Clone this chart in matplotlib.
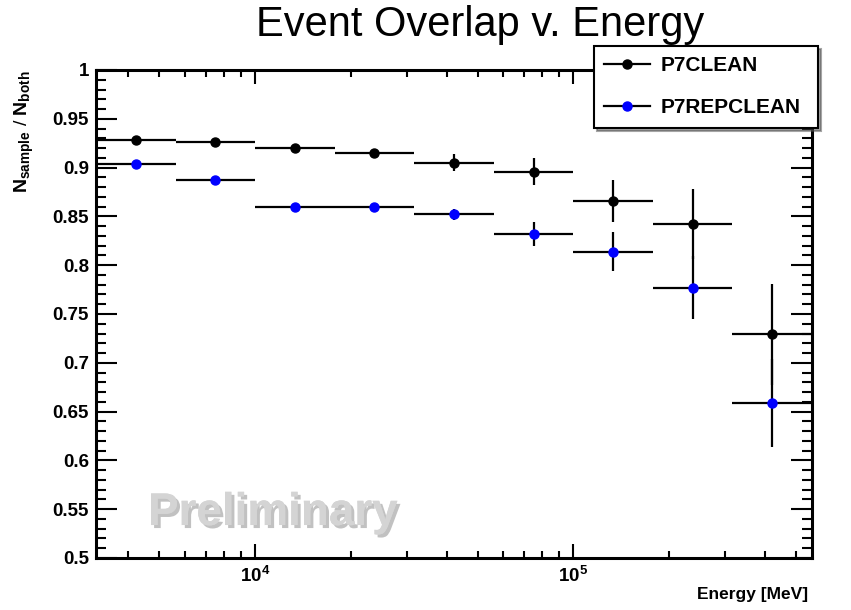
import numpy as np
import matplotlib
matplotlib.use("Agg")
import matplotlib.pyplot as plt
from matplotlib.ticker import MultipleLocator, LogLocator, NullFormatter, FuncFormatter
from matplotlib.lines import Line2D
import matplotlib.patheffects as pe

# bin edges in MeV (quarter decades)
edges = [3162, 5623, 10000, 17783, 31623, 56234, 100000, 177828, 316228, 562341]

p7clean = [0.928, 0.926, 0.920, 0.915, 0.905, 0.896, 0.866, 0.842, 0.729]
p7clean_err = [0.002, 0.003, 0.003, 0.004, 0.0085, 0.014, 0.0215, 0.036, 0.052]
p7rep = [0.904, 0.887, 0.860, 0.860, 0.852, 0.832, 0.814, 0.777, 0.659]
p7rep_err = [0.002, 0.002, 0.002, 0.003, 0.006, 0.0125, 0.020, 0.032, 0.045]

plt.rcParams['font.family'] = ['Liberation Sans', 'DejaVu Sans']
plt.rcParams['mathtext.fontset'] = 'custom'
plt.rcParams['mathtext.rm'] = 'Liberation Sans:bold'
plt.rcParams['mathtext.it'] = 'Liberation Sans:bold'
plt.rcParams['mathtext.bf'] = 'Liberation Sans:bold'

e = np.array(edges, dtype=float)
centers = np.sqrt(e[:-1] * e[1:])
xerr = [centers - e[:-1], e[1:] - centers]

fig = plt.figure(figsize=(8.51, 6.10), dpi=100)
ax = fig.add_axes([96/851, 52/610, 716/851, 488/610])

ax.errorbar(centers, p7clean, xerr=xerr, yerr=p7clean_err, fmt='o', color='black',
            ecolor='black', elinewidth=1.6, markersize=6.5, capsize=0)
ax.errorbar(centers, p7rep, xerr=xerr, yerr=p7rep_err, fmt='o', color='blue', mec='blue',
            ecolor='black', elinewidth=1.6, markersize=6.5, capsize=0)

ax.set_xscale('log')
ax.set_xlim(edges[0], edges[-1])
ax.set_ylim(0.5, 1.0)
ax.set_xticks([1e4, 1e5])
ax.set_xticklabels([r'$10^{4}$', r'$10^{5}$'])
ax.xaxis.set_minor_locator(LogLocator(base=10, subs=np.arange(2, 10)))
ax.xaxis.set_minor_formatter(NullFormatter())
ax.yaxis.set_major_locator(MultipleLocator(0.05))
ax.yaxis.set_minor_locator(MultipleLocator(0.01))
ax.yaxis.set_major_formatter(FuncFormatter(lambda v, p: '%g' % round(v, 2)))

for s in ax.spines.values():
    s.set_linewidth(2.2)
ax.tick_params(axis='both', which='both', direction='in', top=True, right=True, width=1.5)
ax.tick_params(axis='y', which='major', length=15, pad=5)
ax.tick_params(axis='y', which='minor', length=7.5)
ax.tick_params(axis='x', which='major', length=10, pad=6)
ax.tick_params(axis='x', which='minor', length=5)
for lab in ax.get_yticklabels():
    lab.set_fontweight('bold')
    lab.set_fontsize(13.5)
for lab in ax.get_xticklabels():
    lab.set_fontsize(13.5)

ax.set_xlabel('Energy [MeV]', fontsize=12.5, fontweight='bold')
ax.xaxis.set_label_coords(0.994, -0.06)
ax.xaxis.label.set_horizontalalignment('right')
ax.set_ylabel(r'$N_{sample}$ / $N_{both}$', fontsize=14)
ax.yaxis.set_label_coords(-0.1, 1.0)
ax.yaxis.label.set_verticalalignment('center')
ax.yaxis.label.set_horizontalalignment('right')

fig.text(480/851, 1 - 25/610, 'Event Overlap v. Energy', ha='center', va='center', fontsize=30)

ax.text(0.0726, 0.0676, 'Preliminary', transform=ax.transAxes, fontsize=33, fontweight='bold',
        color='#d4d4d4', ha='left', va='baseline',
        path_effects=[pe.withSimplePatchShadow(offset=(2.2, -2.2), shadow_rgbFace='#999999', alpha=0.6),
                      pe.Normal()])

handles = [Line2D([], [], color='black', marker='o', markersize=6.5, lw=1.6),
           Line2D([], [], color='black', marker='o', markersize=6.5, lw=1.6,
                  mfc='blue', mec='blue')]
leg = fig.legend(handles, ['P7CLEAN', 'P7REPCLEAN'], loc='upper left',
                 bbox_to_anchor=(594/851, 1 - 46/610, 224/851, 0),
                 mode='expand', prop={'weight': 'bold', 'size': 15}, frameon=True, fancybox=False,
                 shadow=True, edgecolor='black', handlelength=2.2, handletextpad=0.5,
                 borderpad=0.5, labelspacing=1.1, borderaxespad=0)
leg.get_frame().set_linewidth(1.5)
leg.set_zorder(10)

fig.savefig('out.png', dpi=100)
